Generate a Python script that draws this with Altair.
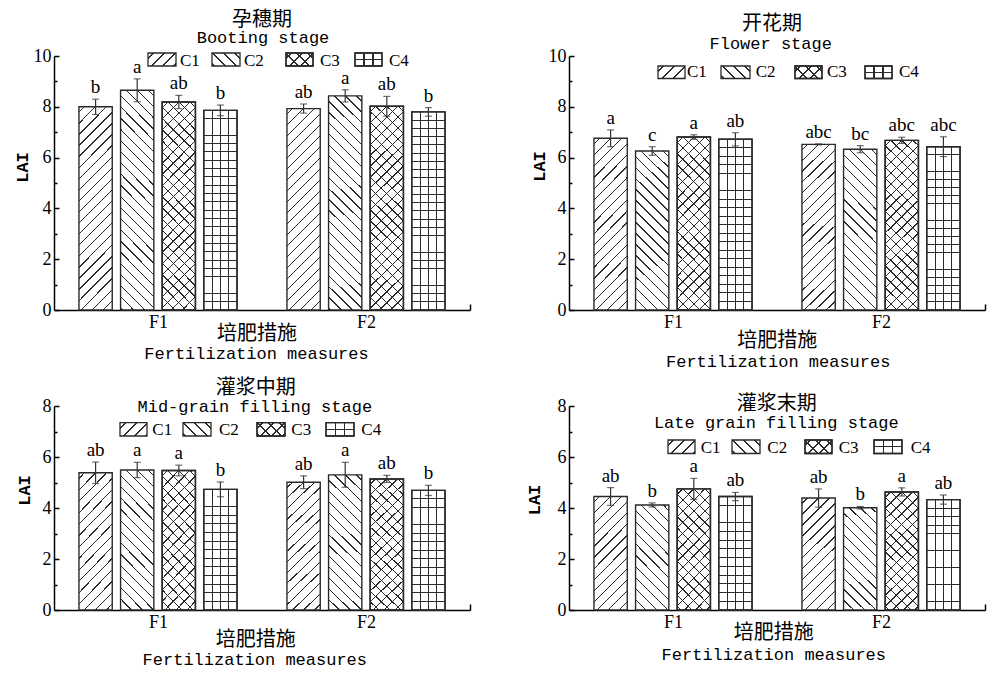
import math
import pandas as pd
import altair as alt

# ---------------- data ----------------
stages_cn = ["孕穗期", "开花期", "灌浆中期", "灌浆末期"]
stages_en = ["Booting stage", "Flower stage", "Mid-grain filling stage", "Late grain filling stage"]
fertilization = ["F1", "F2"]
cultivars = ["C1", "C2", "C3", "C4"]
xtitle_cn = "培肥措施"
xtitle_en = "Fertilization measures"
ytitle = "LAI"

# order: F1-C1..C4, F2-C1..C4
booting_mean = [8.00, 8.65, 8.19, 7.86, 7.93, 8.43, 8.02, 7.80]
booting_sd = [0.30, 0.45, 0.26, 0.21, 0.18, 0.24, 0.39, 0.17]
booting_sig = ["b", "a", "ab", "b", "ab", "a", "ab", "b"]

flower_mean = [6.76, 6.26, 6.81, 6.72, 6.52, 6.33, 6.68, 6.43]
flower_sd = [0.33, 0.17, 0.09, 0.26, 0.02, 0.14, 0.12, 0.39]
flower_sig = ["a", "c", "a", "ab", "abc", "bc", "abc", "abc"]

mid_mean = [5.38, 5.49, 5.47, 4.73, 5.01, 5.30, 5.14, 4.69]
mid_sd = [0.42, 0.30, 0.21, 0.29, 0.25, 0.49, 0.14, 0.20]
mid_sig = ["ab", "a", "a", "b", "ab", "a", "ab", "b"]

late_mean = [4.45, 4.12, 4.75, 4.45, 4.39, 4.01, 4.63, 4.33]
late_sd = [0.35, 0.08, 0.41, 0.16, 0.36, 0.05, 0.16, 0.18]
late_sig = ["ab", "b", "a", "ab", "ab", "b", "a", "ab"]

y_max = [10, 10, 8, 8]

# ---------------- style / layout ----------------
W = 416
HEIGHTS = [254, 254, 204, 204]
BAR_W = 33.3
HATCH = 7.8
GRID = 8.3
LINE = "#2b2b2b"
EDGE = "#2a2a2a"
CJK = "Noto Sans CJK SC"
MONO = "Liberation Mono"
SERIF = "Liberation Serif"
PATTERNS = {"C1": ["/"], "C2": ["\\"], "C3": ["/", "\\"], "C4": ["-", "|"]}

LAYOUT = [
    dict(cn=(208, -36), en=(209, -18.5),
         box_x=[(94, 122), (158, 186), (232, 259), (301, 328)], box_y=(-3, 10),
         lab_x=[126, 190, 266, 335], lab_y=4.5,
         xt_cn=(203, 278), xt_en=(202.5, 298.3), lai=(-32, 111)),
    dict(cn=(203, -32.5), en=(201.7, -12.5),
         box_x=[(89, 116), (152, 181), (226, 253), (296, 323)], box_y=(10, 22.5),
         lab_x=[118, 186.7, 258, 330], lab_y=15.7,
         xt_cn=(208.3, 285), xt_en=(209.2, 305.8), lai=(-30, 110)),
    dict(cn=(201.7, -18), en=(200.8, 1.3),
         box_x=[(66, 93), (129, 157), (203, 231), (272, 300)], box_y=(16.7, 30),
         lab_x=[98.3, 165, 237.3, 307.3], lab_y=24.3,
         xt_cn=(201.7, 234), xt_en=(200.8, 254), lai=(-30, 84)),
    dict(cn=(207.8, -2.2), en=(207.3, 17),
         box_x=[(99, 126), (163, 191), (236, 263), (305, 333)], box_y=(34, 47.5),
         lab_x=[131.7, 198.3, 269.7, 341.7], lab_y=41.5,
         xt_cn=(204.8, 227), xt_en=(204.8, 248.5), lai=(-35, 93.5)),
]

SQ2 = math.sqrt(2)


def hatch(kind, w, h, lw=0.9, bg="#ffffff"):
    """Linear gradient with hard stops that imitates a hatch pattern."""
    if kind in ("/", "\\"):
        L = w + h
        k = L / (w * w + h * h)
        if kind == "/":
            x1, y1, x2, y2 = 0, 0, k * w, k * h
        else:
            x1, y1, x2, y2 = 1, 0, 1 - k * w, k * h
        per = HATCH * SQ2
        half = lw * SQ2 / 2
        c = per / 2
    elif kind == "-":
        L = h
        x1, y1, x2, y2 = 0, 0, 0, 1
        n = max(1, round(h / GRID))
        per = h / n
        half = lw / 2
        c = per
    else:  # "|"
        L = w
        x1, y1, x2, y2 = 0, 0, 1, 0
        n = max(1, round(w / GRID))
        per = w / n
        half = lw / 2
        c = per
    stops = [{"offset": 0, "color": bg}]
    while c < L - 0.8:
        a = round(max(0.0, (c - half) / L), 5)
        b = round(min(1.0, (c + half) / L), 5)
        stops += [{"offset": a, "color": bg}, {"offset": a, "color": LINE},
                  {"offset": b, "color": LINE}, {"offset": b, "color": bg}]
        c += per
    stops.append({"offset": 1, "color": bg})
    return {"gradient": "linear", "x1": round(x1, 5), "y1": round(y1, 5),
            "x2": round(x2, 5), "y2": round(y2, 5), "stops": stops}


def text_layer(s, x, y, font, size, align="center", weight="normal"):
    return alt.Chart(pd.DataFrame({"t": [s]})).mark_text(
        font=font, fontSize=size, align=align, baseline="middle",
        color="black", fontWeight=weight
    ).encode(x=alt.value(x), y=alt.value(y), text="t:N")


def panel(i, means, sds, sigs):
    ymax = y_max[i]
    h = HEIGHTS[i]
    lay = LAYOUT[i]
    df = pd.DataFrame({
        "F": [f for f in fertilization for _ in cultivars],
        "C": cultivars * 2,
        "mean": means,
        "sd": sds,
        "sig": sigs,
    })
    df["lo"] = df["mean"] - df["sd"]
    df["hi"] = df["mean"] + df["sd"]

    xaxis = alt.Axis(
        title=None, labelAngle=0, labelFont=SERIF, labelFontSize=18, labelColor="black",
        labelPadding=9, domainColor="black", domainWidth=1.5, ticks=True,
        tickBand="extent", tickSize={"expr": "-6"}, tickColor="black", tickWidth=1.5,
        tickOpacity={"expr": "datum.value == 'F2' ? 1 : 0"}, grid=False,
    )
    yaxis = alt.Axis(
        values=list(range(0, ymax + 1)),
        labelExpr="datum.value % 2 == 0 ? datum.label : ''",
        labelOverlap=False,
        tickSize={"expr": "datum.value % 2 == 0 ? -5 : -3"},
        labelPadding=8, labelFont=SERIF, labelFontSize=18, labelColor="black",
        domainColor="black", domainWidth=1.5, tickColor="black", tickWidth=1.5,
        grid=False, title=ytitle, titleFont=MONO, titleFontSize=17,
        titleFontWeight="bold", titleColor="black",
        titleAngle=270, titleAlign="center", titleBaseline="middle",
        titleX=lay["lai"][0], titleY=lay["lai"][1],
    )
    xs = alt.Scale(domain=fertilization, paddingInner=0, paddingOuter=0)
    xos = alt.Scale(domain=cultivars, paddingInner=0.2, paddingOuter=0.6)
    ys = alt.Scale(domain=[0, ymax], nice=False, zero=True)

    def X():
        return alt.X("F:N", sort=fertilization, scale=xs, axis=xaxis)

    def XO():
        return alt.XOffset("C:N", sort=cultivars, scale=xos)

    def Y(field):
        return alt.Y(field, type="quantitative", scale=ys, axis=yaxis)

    base = alt.Chart(df)
    layers = []
    for ci, c in enumerate(cultivars):
        vals = [means[ci], means[ci + 4]]
        hp = sum(vals) / 2 * h / ymax
        sub = base.transform_filter(alt.datum.C == c)
        for j, kind in enumerate(PATTERNS[c]):
            bg = "#ffffff" if j == 0 else "rgba(255,255,255,0)"
            g = hatch(kind, BAR_W, hp, bg=bg)
            layers.append(
                sub.mark_bar(fill=g, stroke=EDGE, strokeWidth=1.4).encode(
                    x=X(), xOffset=XO(), y=Y("mean")
                )
            )
    layers.append(
        base.mark_rule(color="#333333", strokeWidth=1.2).encode(
            x=X(), xOffset=XO(), y=Y("lo"), y2="hi:Q"
        )
    )
    layers.append(
        base.transform_fold(["lo", "hi"], as_=["k", "v"]).mark_tick(
            size=7, thickness=1.2, color="#333333"
        ).encode(x=X(), xOffset=XO(), y=Y("v"))
    )
    layers.append(
        base.mark_text(font=SERIF, fontSize=19, dy=-6, baseline="alphabetic",
                       color="black").encode(
            x=X(), xOffset=XO(), y=Y("hi"), text="sig:N"
        )
    )
    # legend
    y0, y1 = lay["box_y"]
    for ci, c in enumerate(cultivars):
        x0, x1 = lay["box_x"][ci]
        for j, kind in enumerate(PATTERNS[c]):
            bg = "#ffffff" if j == 0 else "rgba(255,255,255,0)"
            g = hatch(kind, x1 - x0, y1 - y0, lw=1.4, bg=bg)
            layers.append(
                alt.Chart(pd.DataFrame({"t": [c]})).mark_rect(
                    fill=g, stroke=EDGE, strokeWidth=1.3
                ).encode(x=alt.value(x0), x2=alt.value(x1), y=alt.value(y0), y2=alt.value(y1))
            )
        layers.append(text_layer(c, lay["lab_x"][ci], lay["lab_y"], SERIF, 17, align="left"))
    # titles
    layers.append(text_layer(stages_cn[i], lay["cn"][0], lay["cn"][1], CJK, 20))
    layers.append(text_layer(stages_en[i], lay["en"][0], lay["en"][1], MONO, 17))
    layers.append(text_layer(xtitle_cn, lay["xt_cn"][0], lay["xt_cn"][1], CJK, 20))
    layers.append(text_layer(xtitle_en, lay["xt_en"][0], lay["xt_en"][1], MONO, 17))
    return alt.layer(*layers).properties(width=W, height=h)


p0 = panel(0, booting_mean, booting_sd, booting_sig)
p1 = panel(1, flower_mean, flower_sd, flower_sig)
p2 = panel(2, mid_mean, mid_sd, mid_sig)
p3 = panel(3, late_mean, late_sd, late_sig)

chart = alt.concat(
    p0, p1, p2, p3, columns=2, bounds="flush",
    spacing={"row": 96, "column": 99},
).properties(
    padding={"left": 5, "top": 2, "right": 5, "bottom": 6},
    background="white",
).configure_view(stroke=None)

chart.save("out.html", embed_options={"renderer": "svg", "actions": False})
